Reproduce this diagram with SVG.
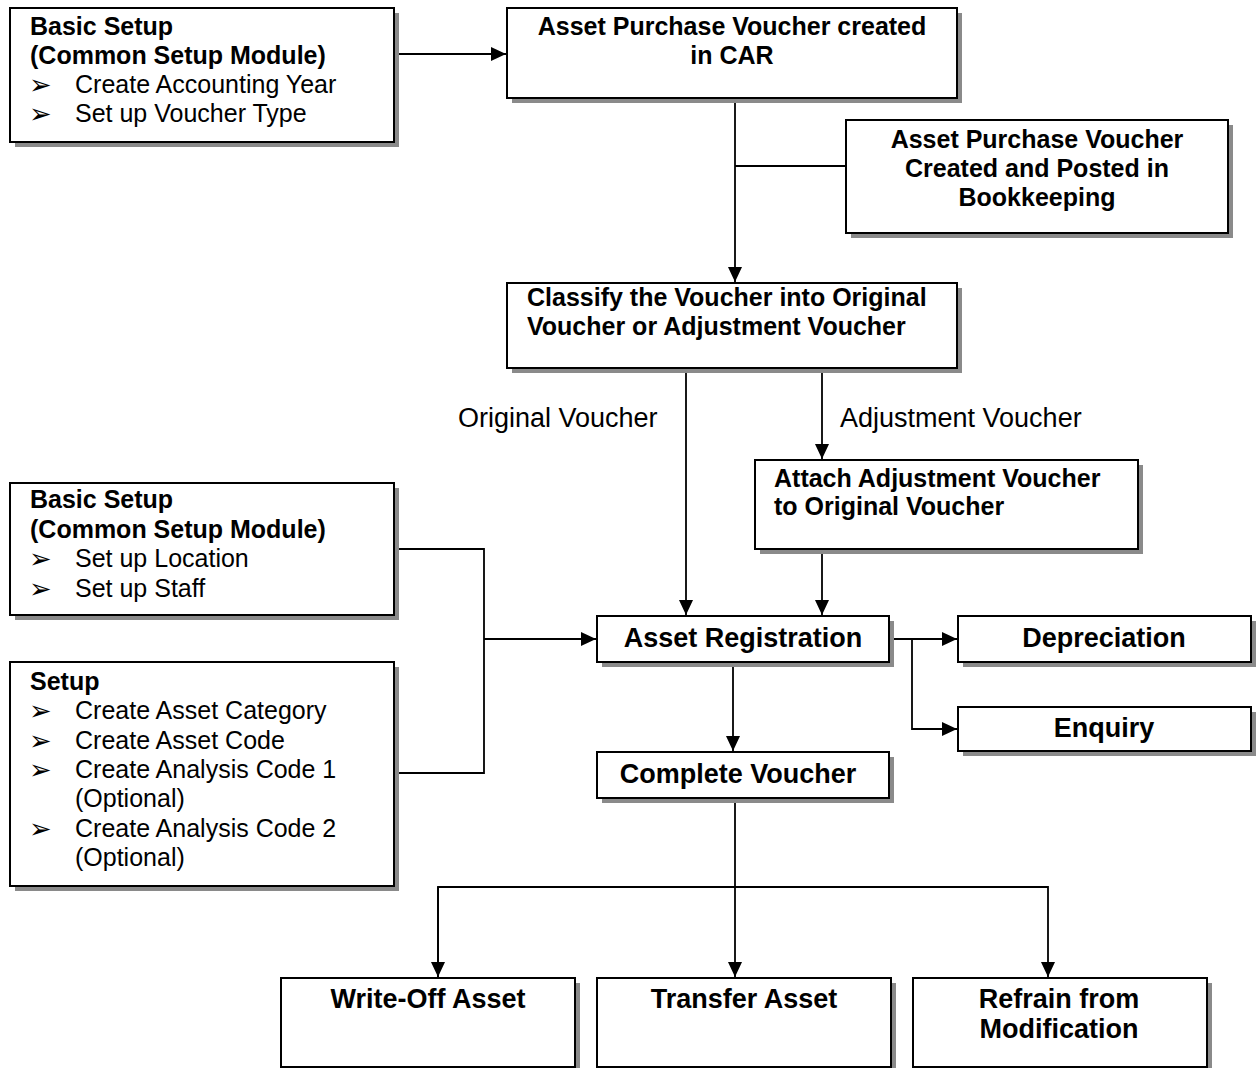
<svg xmlns="http://www.w3.org/2000/svg" width="1257" height="1068" viewBox="0 0 1257 1068">
<defs>
<style>
.sh{fill:#8a8a8a;stroke:none}
.bx{fill:#fff;stroke:#000;stroke-width:2}
.t{font-family:"Liberation Sans",Arial,sans-serif;font-size:25px;fill:#000}
.bu{font-family:"DejaVu Sans",sans-serif;font-size:27px;fill:#000}
.b{font-weight:bold}
.big{font-size:27px}
.c{text-anchor:middle}
.ln{fill:none;stroke:#000;stroke-width:1.8}
</style>
<marker id="ah" markerUnits="userSpaceOnUse" markerWidth="16" markerHeight="14" refX="15" refY="7" orient="auto">
<path d="M0,0 L15,7 L0,14 Z" fill="#000"/>
</marker>
</defs>
<rect width="1257" height="1068" fill="#fff"/>

<g id="connectors">
<path class="ln" d="M394,54 H506" marker-end="url(#ah)"/>
<path class="ln" d="M735,98 V282" marker-end="url(#ah)"/>
<path class="ln" d="M735,166 H846"/>
<path class="ln" d="M686,368 V615" marker-end="url(#ah)"/>
<path class="ln" d="M822,368 V459" marker-end="url(#ah)"/>
<path class="ln" d="M822,549 V615" marker-end="url(#ah)"/>
<path class="ln" d="M394,549 H484 V773 H394"/>
<path class="ln" d="M484,639 H596" marker-end="url(#ah)"/>
<path class="ln" d="M889,639 H957" marker-end="url(#ah)"/>
<path class="ln" d="M912,639 V729 H957" marker-end="url(#ah)"/>
<path class="ln" d="M733,662 V751" marker-end="url(#ah)"/>
<path class="ln" d="M735,798 V977" marker-end="url(#ah)"/>
<path class="ln" d="M438,977 V887 H1048 V977" marker-end="url(#ah)"/>
<path class="ln" d="M438,887 V977" marker-end="url(#ah)"/>
<text class="t big" x="458" y="427">Original Voucher</text>
<text class="t big" x="840" y="427">Adjustment Voucher</text>
</g>

<g id="basic-setup-1">
<rect class="sh" x="15" y="13" width="384" height="134"/>
<rect class="bx" x="10" y="8" width="384" height="134"/>
<text class="t b" x="30" y="35">Basic Setup</text>
<text class="t b" x="30" y="64">(Common Setup Module)</text>
<text class="bu" x="29" y="94">➢</text><text class="t" x="75" y="93">Create Accounting Year</text>
<text class="bu" x="29" y="123">➢</text><text class="t" x="75" y="122">Set up Voucher Type</text>
</g>

<g id="voucher-car">
<rect class="sh" x="512" y="13" width="450" height="90"/>
<rect class="bx" x="507" y="8" width="450" height="90"/>
<text class="t b c" x="732" y="35">Asset Purchase Voucher created</text>
<text class="t b c" x="732" y="64">in CAR</text>
</g>

<g id="bookkeeping">
<rect class="sh" x="851" y="125" width="382" height="113"/>
<rect class="bx" x="846" y="120" width="382" height="113"/>
<text class="t b c" x="1037" y="148">Asset Purchase Voucher</text>
<text class="t b c" x="1037" y="177">Created and Posted in</text>
<text class="t b c" x="1037" y="206">Bookkeeping</text>
</g>

<g id="classify">
<rect class="sh" x="512" y="288" width="450" height="85"/>
<rect class="bx" x="507" y="283" width="450" height="85"/>
<text class="t b" x="527" y="306">Classify the Voucher into Original</text>
<text class="t b" x="527" y="335">Voucher or Adjustment Voucher</text>
</g>

<g id="attach">
<rect class="sh" x="760" y="465" width="383" height="89"/>
<rect class="bx" x="755" y="460" width="383" height="89"/>
<text class="t b" x="774" y="487">Attach Adjustment Voucher</text>
<text class="t b" x="774" y="515">to Original Voucher</text>
</g>

<g id="basic-setup-2">
<rect class="sh" x="15" y="488" width="384" height="132"/>
<rect class="bx" x="10" y="483" width="384" height="132"/>
<text class="t b" x="30" y="508">Basic Setup</text>
<text class="t b" x="30" y="538">(Common Setup Module)</text>
<text class="bu" x="29" y="568">➢</text><text class="t" x="75" y="567">Set up Location</text>
<text class="bu" x="29" y="598">➢</text><text class="t" x="75" y="597">Set up Staff</text>
</g>

<g id="setup">
<rect class="sh" x="15" y="667" width="384" height="224"/>
<rect class="bx" x="10" y="662" width="384" height="224"/>
<text class="t b" x="30" y="690">Setup</text>
<text class="bu" x="29" y="720">➢</text><text class="t" x="75" y="719">Create Asset Category</text>
<text class="bu" x="29" y="750">➢</text><text class="t" x="75" y="749">Create Asset Code</text>
<text class="bu" x="29" y="779">➢</text><text class="t" x="75" y="778">Create Analysis Code 1</text>
<text class="t" x="75" y="807">(Optional)</text>
<text class="bu" x="29" y="838">➢</text><text class="t" x="75" y="837">Create Analysis Code 2</text>
<text class="t" x="75" y="866">(Optional)</text>
</g>

<g id="asset-registration">
<rect class="sh" x="602" y="621" width="292" height="46"/>
<rect class="bx" x="597" y="616" width="292" height="46"/>
<text class="t b big c" x="743" y="647">Asset Registration</text>
</g>

<g id="depreciation">
<rect class="sh" x="963" y="621" width="293" height="46"/>
<rect class="bx" x="958" y="616" width="293" height="46"/>
<text class="t b big c" x="1104" y="647">Depreciation</text>
</g>

<g id="enquiry">
<rect class="sh" x="963" y="712" width="293" height="44"/>
<rect class="bx" x="958" y="707" width="293" height="44"/>
<text class="t b big c" x="1104" y="737">Enquiry</text>
</g>

<g id="complete-voucher">
<rect class="sh" x="602" y="757" width="292" height="46"/>
<rect class="bx" x="597" y="752" width="292" height="46"/>
<text class="t b big c" x="738" y="783">Complete Voucher</text>
</g>

<g id="write-off">
<rect class="sh" x="286" y="983" width="294" height="90"/>
<rect class="bx" x="281" y="978" width="294" height="89"/>
<text class="t b big c" x="428" y="1008">Write-Off Asset</text>
</g>

<g id="transfer">
<rect class="sh" x="602" y="983" width="294" height="90"/>
<rect class="bx" x="597" y="978" width="294" height="89"/>
<text class="t b big c" x="744" y="1008">Transfer Asset</text>
</g>

<g id="refrain">
<rect class="sh" x="918" y="983" width="294" height="90"/>
<rect class="bx" x="913" y="978" width="294" height="89"/>
<text class="t b big c" x="1059" y="1008">Refrain from</text>
<text class="t b big c" x="1059" y="1038">Modification</text>
</g>
</svg>
